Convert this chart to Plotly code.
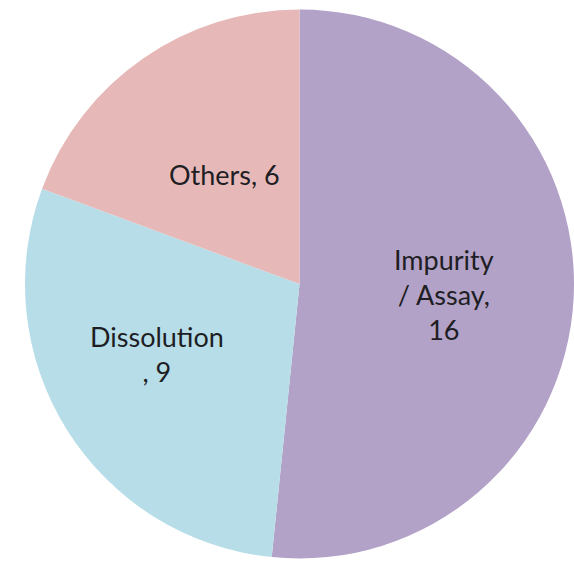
import plotly.graph_objects as go

labels = ["Impurity / Assay", "Dissolution", "Others"]
values = [16, 9, 6]
colors = ["#B3A2C7", "#B7DEE8", "#E6B9B8"]
label_texts = ["Impurity<br>/ Assay,<br>" + str(values[0]),
               "Dissolution<br>, " + str(values[1]),
               "Others, " + str(values[2])]

W, H = 574, 563
cx, cy, r = 300, 284, 275  # pixels from top-left

fig = go.Figure(go.Pie(
    labels=labels, values=values,
    marker=dict(colors=colors, line=dict(width=0)),
    sort=False, direction="clockwise", rotation=0,
    textinfo="none", hoverinfo="label+value", showlegend=False,
    domain=dict(x=[(cx - r) / W, min(1, (cx + r) / W)],
                y=[(H - cy - r) / H, (H - cy + r) / H]),
))

# label positions (pixels from top-left)
pos = [(444, 294), (157, 354), (224, 174)]
for txt, (px, py) in zip(label_texts, pos):
    fig.add_annotation(x=px / W, y=1 - py / H, xref="paper", yref="paper",
                       xanchor="center", yanchor="middle",
                       text=txt, showarrow=False, align="center",
                       font=dict(family="Lato, Carlito, sans-serif", size=27, color="#1e1e24"))

fig.update_layout(width=W, height=H, margin=dict(l=0, r=0, t=0, b=0),
                  paper_bgcolor="white", plot_bgcolor="white")
fig.write_html("out.html")
